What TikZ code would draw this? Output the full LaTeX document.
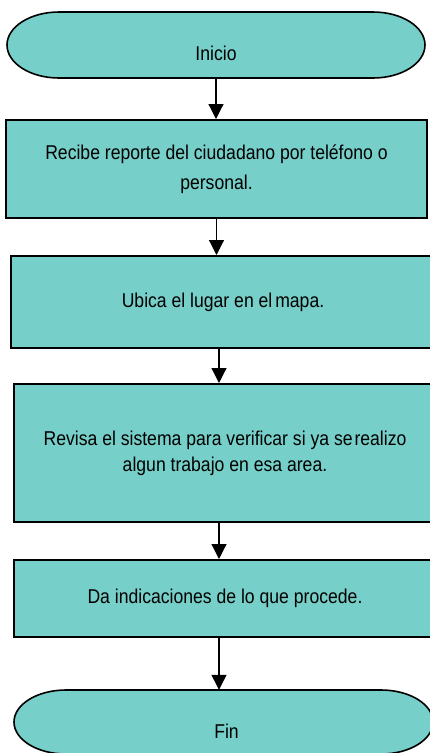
\documentclass[tikz,border=0pt]{standalone}
\usepackage{fontspec}
\setmainfont{Liberation Sans}[FakeStretch=0.88]
\usetikzlibrary{arrows.meta,calc}
\definecolor{tealfill}{RGB}{118,207,200}
\begin{document}
\begin{tikzpicture}[x=1pt,y=-1pt,
  every node/.style={font=\fontsize{20}{28}\selectfont, text=black},
  stepbox/.style={draw=black, line width=2pt, fill=tealfill, inner sep=0pt, align=center},
  termnode/.style={inner sep=0pt, align=center},
  termshape/.style={draw=black, line width=1.6pt, fill=tealfill},
  arr/.style={line width=1.2pt, -{Triangle[width=15pt,length=15pt]}}]
\useasboundingbox (0,0) rectangle (429,753);
\fill[white] (0,0) rectangle (429,753);
% terminator outlines
\path[termshape] (59,12) -- (373,12) arc[start angle=90,end angle=-90,x radius=52pt,y radius=33pt]
  -- (59,78) arc[start angle=270,end angle=90,x radius=52pt,y radius=33pt] -- cycle;
\path[termshape] (66,690) -- (381,690) arc[start angle=90,end angle=-90,x radius=52pt,y radius=32pt]
  -- (66,754) arc[start angle=270,end angle=90,x radius=52pt,y radius=32pt] -- cycle;
% nodes
\node[termnode, minimum width=418pt, minimum height=66pt] (ini) at (216,45) {\raisebox{-8pt}[\height][\depth]{Inicio}};
\node[stepbox, minimum width=421pt, minimum height=98pt, font=\fontsize{20}{30}\selectfont] (b1) at (216.5,169) {Recibe reporte del ciudadano por teléfono o\\personal.};
\node[stepbox, minimum width=420pt, minimum height=92pt] (b2) at (221,302) {\hspace{4pt}Ubica el lugar en el\hspace{-2pt} mapa.};
\node[stepbox, minimum width=418pt, minimum height=138pt, font=\fontsize{20}{26}\selectfont] (b3) at (223,453) {\hspace{4pt}Revisa el sistema para verificar si ya se\hspace{-3pt} realizo\\\hspace{4pt}algun trabajo en esa area.};
\node[stepbox, minimum width=418pt, minimum height=77pt] (b4) at (223,598.5) {\hspace{4pt}Da indicaciones de lo que procede.};
\node[termnode, minimum width=419pt, minimum height=64pt] (fin) at (223.5,722) {\raisebox{-9pt}[\height][\depth]{\hspace{6pt}Fin}};
% connectors
\draw[arr] (ini.south) -- (ini.south |- b1.north);
\draw[arr] (b1.south) -- (b1.south |- b2.north);
\draw[arr] ([xshift=-2pt]b2.south) -- ([xshift=-2pt]b2.south |- b3.north);
\draw[arr] ([xshift=-4pt]b3.south) -- ([xshift=-4pt]b3.south |- b4.north);
\draw[arr] ([xshift=-4pt]b4.south) -- ([xshift=-4pt]b4.south |- fin.north);
\end{tikzpicture}
\end{document}
